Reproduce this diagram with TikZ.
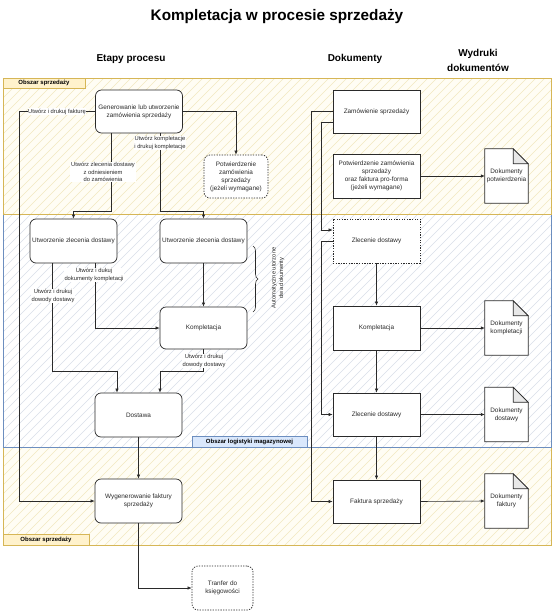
\documentclass[tikz,border=0pt]{standalone}
\usepackage{fontspec}
\setmainfont{Liberation Sans}
\usetikzlibrary{arrows.meta,decorations.pathreplacing}
\definecolor{ystroke}{HTML}{D6B656}
\definecolor{yfill}{HTML}{FFF2CC}
\definecolor{bstroke}{HTML}{6C8EBF}
\definecolor{bfill}{HTML}{DAE8FC}
\definecolor{yhatch}{HTML}{F2E8C0}
\definecolor{ybg}{HTML}{FFFDF4}
\definecolor{bhatch}{HTML}{DADFE8}
\definecolor{ink}{HTML}{2A2A2A}
\definecolor{foldgray}{HTML}{E8E8E8}
\newcommand{\bxfont}{\fontsize{6.4}{8}\selectfont}
\newcommand{\lbfont}{\fontsize{5.8}{7.3}\selectfont}
\pgfdeclarelayer{regions}
\pgfdeclarelayer{docs}
\pgfsetlayers{regions,docs,main}
\newcommand{\docshape}[1]{%
  \draw[docline,fill=white] (#1.south west) -- (#1.north west) -- ([xshift=-15pt]#1.north east) -- ([yshift=-15pt]#1.north east) -- (#1.south east) -- cycle;
  \draw[docline,fill=foldgray] ([xshift=-15pt]#1.north east) -- ([xshift=-15pt,yshift=-15pt]#1.north east) -- ([yshift=-15pt]#1.north east) -- cycle;}
\tikzset{
  box/.style={draw=ink, line width=0.7pt, fill=white, rounded corners=6pt, minimum width=87pt, minimum height=43pt, inner sep=1pt, align=center, font=\bxfont, text=ink},
  dbox/.style={box, dash pattern=on 1.3pt off 1.3pt},
  rbox/.style={box, sharp corners},
  rdbox/.style={rbox, dash pattern=on 1.3pt off 1.3pt},
  doc/.style={minimum width=43pt, minimum height=54pt, inner sep=0pt, align=center, font=\bxfont, text=ink},
  docline/.style={draw=ink, line width=0.7pt},
  lbl/.style={fill=white, inner sep=0.6pt, align=center, font=\lbfont, text=ink},
  arr/.style={draw=ink, line width=0.6pt, -{Latex[length=4pt,width=3.4pt]}},
  tabY/.style={draw=ystroke, fill=yfill, line width=0.7pt},
  tabB/.style={draw=bstroke, fill=bfill, line width=0.7pt},
  tabtext/.style={font=\bfseries\fontsize{6}{7}\selectfont, inner sep=0pt},
  head/.style={font=\bfseries\fontsize{10}{15}\selectfont, align=center}
}
\begin{document}
\begin{tikzpicture}[x=1pt,y=-1pt]
\useasboundingbox (0,0) rectangle (554,613);

% ---------- regions ----------
\begin{pgfonlayer}{regions}
\fill[white] (0,0) rectangle (554,613);
\begin{scope}
  \clip (3,447) rectangle (551,545);
  \fill[ybg] (3,447) rectangle (551,545);
  \foreach \i in {-600,-591,...,560} \draw[yhatch, line width=0.5pt] (\i,620) -- ++(620,-620);
\end{scope}
\draw[ystroke, line width=0.9pt] (3,447) rectangle (551,545);
\begin{scope}
  \clip (3,214) rectangle (551,447);
  \fill[white] (3,214) rectangle (551,447);
  \foreach \i in {-600,-591,...,560} \draw[bhatch, line width=0.5pt] (\i,620) -- ++(620,-620);
\end{scope}
\draw[bstroke, line width=0.9pt] (3,214) rectangle (551,447);
\begin{scope}
  \clip (3,78) rectangle (551,214);
  \fill[ybg] (3,78) rectangle (551,214);
  \foreach \i in {-600,-591,...,560} \draw[yhatch, line width=0.5pt] (\i,620) -- ++(620,-620);
\end{scope}
\draw[ystroke, line width=0.9pt] (3,78) rectangle (551,214);
\draw[tabY] (3,78) rectangle (85,88);
\draw[tabY] (3,534) rectangle (89,545);
\draw[tabB] (192,436) rectangle (307,447);
\end{pgfonlayer}
\node[tabtext] (t1) at (44,83) {Obszar sprzedaży};
\node[tabtext] (t2) at (46,539.5) {Obszar sprzedaży};
\node[tabtext] (t3) at (249.5,441.5) {Obszar logistyki magazynowej};

% ---------- headings ----------
\node[font=\bfseries\fontsize{15.3}{18}\selectfont] (title) at (277,17) {Kompletacja w procesie sprzedaży};
\node[head] (h1) at (131,59) {Etapy procesu};
\node[head] (h2) at (355,59) {Dokumenty};
\node[head] (h3) at (478,60) {Wydruki\\dokumentów};

% ---------- process column ----------
\node[box] (gen) at (139,111.5) {Generowanie lub utworzenie\\zamówienia sprzedaży};
\node[dbox, minimum width=64pt] (potL) at (236,176.5) {Potwierdzenie\\zamówienia\\sprzedaży\\(jeżeli wymagane)};
\node[box, minimum height=44pt] (utwL) at (73.5,241) {Utworzenie zlecenia dostawy};
\node[box, minimum height=44pt] (utwR) at (203.5,241) {Utworzenie zlecenia dostawy};
\node[box, minimum height=42pt] (kompL) at (203.5,328) {Kompletacja};
\node[box, minimum height=44pt] (dost) at (138.5,415) {Dostawa};
\node[box, minimum height=44pt] (wyg) at (138.5,501) {Wygenerowanie faktury\\sprzedaży};
\node[dbox, minimum width=61pt, minimum height=44pt] (tran) at (222.5,588) {Tranfer do\\księgowości};

% ---------- documents column ----------
\node[rbox] (zam) at (376.5,111.5) {Zamówienie sprzedaży};
\node[rbox, minimum height=44pt] (pot) at (376.5,176) {Potwierdzenie zamówienia\\sprzedaży\\oraz faktura pro-forma\\(jeżeli wymagane)};
\node[rdbox, minimum height=44pt] (zlD) at (376.5,241) {Zlecenie dostawy};
\node[rbox, minimum height=44pt] (komp) at (376.5,328) {Kompletacja};
\node[rbox, minimum height=43pt] (zlec) at (376.5,414.5) {Zlecenie dostawy};
\node[rbox, minimum height=43pt] (fakt) at (376.5,501.5) {Faktura sprzedaży};

% ---------- printouts ----------
\node[doc] (d1) at (506.5,176) {Dokumenty\\potwierdzenia};
\node[doc] (d2) at (506.5,328) {Dokumenty\\kompletacji};
\node[doc] (d3) at (506.5,414.5) {Dokumenty\\dostawy};
\node[doc] (d4) at (506.5,501) {Dokumenty\\faktury};
\begin{pgfonlayer}{docs}
\docshape{d1}
\docshape{d2}
\docshape{d3}
\docshape{d4}
\end{pgfonlayer}

% ---------- connectors: process ----------
\draw[arr] (gen.west) -- (19,111.5) |- (wyg.west);
\draw[arr] (gen.east) -| (potL.north);
\draw[arr] ([xshift=-28pt]gen.south) -- ++(0,78) -| (utwL.north);
\draw[arr] ([xshift=21pt]gen.south) -- ++(0,78) -| (utwR.north);
\draw[arr] (utwR.south) -- (kompL.north);
\draw[arr] ([xshift=21.5pt]utwL.south) |- (kompL.west);
\draw[arr] ([xshift=-21.5pt]utwL.south) -- ++(0,108) -| ([xshift=-21.5pt]dost.north);
\draw[arr] (kompL.south) -- ++(0,22) -| ([xshift=21.5pt]dost.north);
\draw[arr] (dost.south) -- (wyg.north);
\draw[arr] (wyg.south) |- (tran.west);

% ---------- connectors: documents ----------
\draw[arr] (zam.west) -- ++(-21,0) |- (fakt.west);
\draw[arr] ([yshift=-10.5pt]zam.west) -- ++(-11,0) |- ([yshift=11pt]zlD.west);
\draw[arr] (zlD.west) -- ++(-11,0) |- (zlec.west);
\draw[arr] (zlD.south) -- (komp.north);
\draw[arr] (komp.south) -- (zlec.north);
\draw[arr] (zlec.south) -- (fakt.north);
\draw[arr] (pot.east) -- (d1.west);
\draw[arr] (komp.east) -- (d2.west);
\draw[arr] (zlec.east) -- (d3.west);
\draw[arr] (fakt.east) -- (d4.west);

% ---------- labels ----------
\node[lbl] (l1) at (57,111.5) {Utwórz i drukuj fakturę};
\node[lbl] (l2) at (103,172) {Utwórz zlecenia dostawy\\z odniesieniem\\do zamówienia};
\node[lbl] (l3) at (160,143) {Utwórz kompletacje\\i drukuj kompletacje};
\node[lbl] (l4) at (94,275) {Utwórz i dukuj\\dokumenty kompletacji};
\node[lbl] (l5) at (53,296) {Utwórz i drukuj\\dowody dostawy};
\node[lbl] (l6) at (204,361) {Utwórz i drukuj\\dowody dostawy};

% ---------- brace ----------
\coordinate (bt) at (253,246);
\coordinate (bb) at (253,312);
\draw[ink, line width=0.6pt, decorate, decoration={brace, amplitude=5pt}] (bt) -- (bb);
\node[align=center, font=\fontsize{5.8}{7.6}\selectfont, text=ink, inner sep=0.5pt, rotate=90] (bl) at (278,278) {Automatyczne utorzone\\dwa dokumenty};
\end{tikzpicture}
\end{document}
